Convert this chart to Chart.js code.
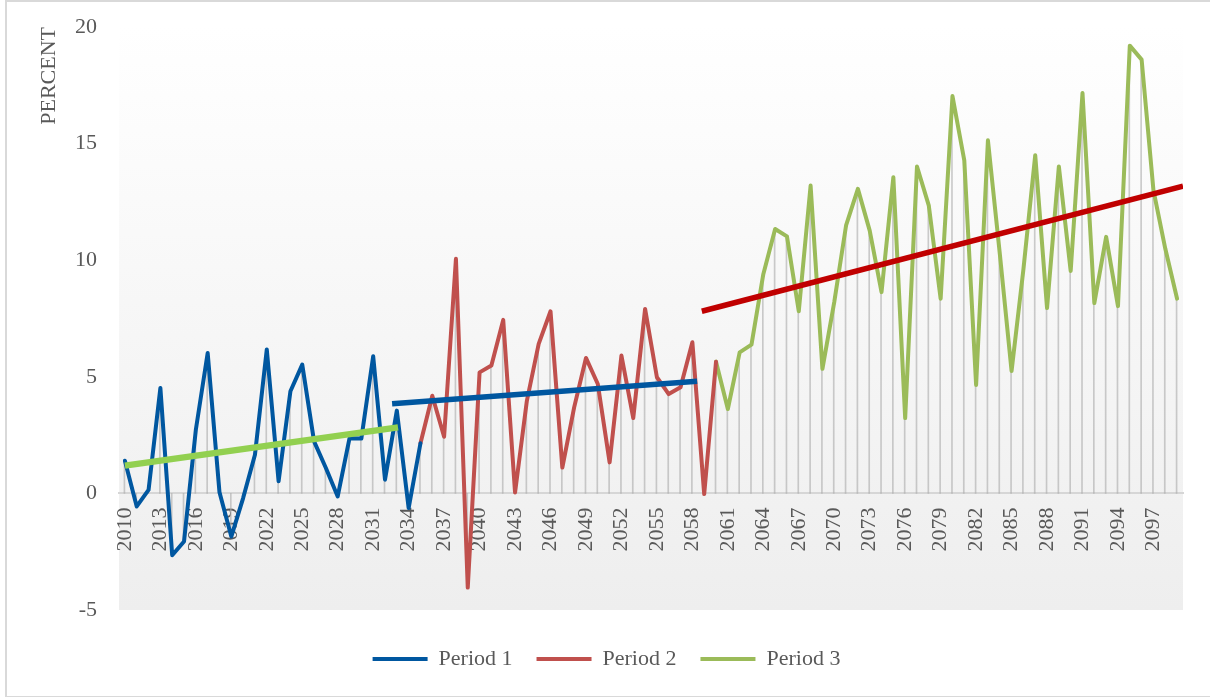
<!DOCTYPE html>
<html>
<head>
<meta charset="utf-8">
<script src="https://cdn.jsdelivr.net/npm/chart.js@4/dist/chart.umd.min.js"></script>
<style>
  body { margin: 0; background: #ffffff; }
  #wrap { position: relative; width: 1210px; height: 697px; overflow: hidden; }
  #frame { position: absolute; left: 5px; top: 0; width: 1210px; height: 694px; border: 2px solid #d9d9d9; border-right: none; }
  canvas { position: absolute; left: 0; top: 0; }
</style>
</head>
<body>
<div id="wrap">
  <div id="frame"></div>
  <canvas id="grafico" width="1210" height="697"></canvas>
</div>
<script>
// categorias: años 2010 - 2099
var primerAnio = 2010;
var ultimoAnio = 2099;
var anios = [];
for (var a = primerAnio; a <= ultimoAnio; a++) anios.push(String(a));

// Period 1: 2010 - 2035
var period1 = [1.4, -0.56, 0.15, 4.52, -2.65, -2.06, 2.73, 6.02, 0.05, -1.85,
    -0.2, 1.66, 6.17, 0.52, 4.38, 5.52, 2.23, 1.09, -0.13, 2.37,
    2.35, 5.88, 0.59, 3.55, -0.63, 2.15];
var inicioPeriod1 = 2010;

// Period 2: 2035 - 2060
var period2 = [2.15, 4.19, 2.43, 10.06, -4.04, 5.19, 5.48, 7.44, 0.04, 3.97,
    6.41, 7.81, 1.11, 3.69, 5.81, 4.69, 1.33, 5.91, 3.23, 7.91,
    4.98, 4.26, 4.55, 6.48, -0.03, 5.65];
var inicioPeriod2 = 2035;

// Period 3: 2060 - 2099
var period3 = [5.65, 3.62, 6.05, 6.38, 9.4, 11.34, 11.02, 7.81, 13.2, 5.34,
    8.2, 11.49, 13.06, 11.27, 8.63, 13.56, 3.23, 14.02, 12.34, 8.35,
    17.04, 14.28, 4.65, 15.14, 10.3, 5.25, 9.6, 14.5, 7.95, 14.02,
    9.54, 17.17, 8.16, 11.0, 8.03, 19.2, 18.6, 13.0, 10.5, 8.35];
var inicioPeriod3 = 2060;

// lineas de tendencia (inicio y fin, en años)
var tendencia1X = [2010, 2033.1];
var tendencia1Y = [1.19, 2.83];
var tendencia2X = [2032.6, 2058.4];
var tendencia2Y = [3.84, 4.81];
var tendencia3X = [2058.8, 2099.5];
var tendencia3Y = [7.81, 13.18];

// ticks del eje y
var ticksY = [-5, 0, 5, 10, 15, 20];

var fuente = "'Liberation Serif', 'DejaVu Serif', serif";
var gris = '#595959';

function colocar(valores, inicio) {
    return anios.map(function (an) {
        var i = Number(an) - inicio;
        return (i >= 0 && i < valores.length) ? valores[i] : null;
    });
}

function puntos(xs, ys) {
    return xs.map(function (x, i) { return { x: x, y: ys[i] }; });
}

var datos1 = colocar(period1, inicioPeriod1);
var datos2 = colocar(period2, inicioPeriod2);
var datos3 = colocar(period3, inicioPeriod3);
// lineas verticales hasta el eje (drop lines)
var caidas = anios.map(function (an, i) {
    if (datos1[i] !== null) return datos1[i];
    if (datos2[i] !== null) return datos2[i];
    return datos3[i];
});

// fondo degradado del area de trazado
var fondoPlugin = {
    id: 'fondo',
    beforeDraw: function (chart) {
        var area = chart.chartArea;
        var ctx = chart.ctx;
        var g = ctx.createLinearGradient(0, area.top, 0, area.bottom);
        g.addColorStop(0, '#ffffff');
        g.addColorStop(1, '#eeeeee');
        ctx.save();
        ctx.fillStyle = g;
        ctx.fillRect(area.left, area.top, area.right - area.left, area.bottom - area.top);
        ctx.restore();
    }
};

function serie(label, data, color) {
    return {
        type: 'line',
        label: label,
        data: data,
        borderColor: color,
        backgroundColor: color,
        borderWidth: 4,
        pointRadius: 0,
        pointStyle: 'line',
        borderJoinStyle: 'round',
        borderCapStyle: 'round',
        tension: 0,
        spanGaps: false,
        order: 2
    };
}

function tendencia(label, xs, ys, color, ancho) {
    return {
        type: 'line',
        label: label,
        data: puntos(xs, ys),
        xAxisID: 'xt',
        borderColor: color,
        borderWidth: ancho,
        pointRadius: 0,
        borderCapStyle: 'butt',
        tension: 0,
        order: 1
    };
}

var ctx = document.getElementById('grafico').getContext('2d');
var grafico = new Chart(ctx, {
    data: {
        labels: anios,
        datasets: [
            serie('Period 1', datos1, '#0057a0'),
            serie('Period 2', datos2, '#c0504d'),
            serie('Period 3', datos3, '#9bbb59'),
            tendencia('Tendencia 1', tendencia1X, tendencia1Y, '#92d050', 6.5),
            tendencia('Tendencia 2', tendencia2X, tendencia2Y, '#0057a0', 5.5),
            tendencia('Tendencia 3', tendencia3X, tendencia3Y, '#c00000', 5.5),
            {
                type: 'bar',
                label: 'caidas',
                data: caidas,
                backgroundColor: 'rgba(170, 170, 170, 0.6)',
                barThickness: 1,
                order: 10
            }
        ]
    },
    options: {
        responsive: false,
        animation: false,
        devicePixelRatio: 1,
        layout: {
            padding: { left: 30, right: 27, top: 27, bottom: 17 }
        },
        scales: {
            x: {
                type: 'category',
                offset: true,
                position: { y: 0 },
                grid: { display: false, drawTicks: false },
                border: { display: true, color: '#d6d6d6', width: 2 },
                ticks: {
                    autoSkip: false,
                    minRotation: 90,
                    maxRotation: 90,
                    padding: 14,
                    color: gris,
                    font: { family: fuente, size: 22 },
                    callback: function (v, i) {
                        return i % 3 === 0 ? anios[i] : '';
                    }
                },
                afterFit: function (escala) {
                    escala.paddingLeft = 0;
                    escala.paddingRight = 0;
                }
            },
            xt: {
                type: 'linear',
                position: 'bottom',
                min: primerAnio - 0.5,
                max: ultimoAnio + 0.5,
                grid: { display: false, drawTicks: false },
                border: { display: false },
                ticks: { display: false },
                afterFit: function (escala) {
                    escala.height = 14;
                    escala.paddingLeft = 0;
                    escala.paddingRight = 0;
                }
            },
            y: {
                min: -5,
                max: 20,
                grid: { display: false, drawTicks: false },
                border: { display: false },
                afterBuildTicks: function (escala) {
                    escala.ticks = ticksY.map(function (v) { return { value: v }; });
                },
                afterFit: function (escala) {
                    escala.width = 89;
                    escala.paddingTop = 0;
                    escala.paddingBottom = 0;
                },
                ticks: {
                    padding: 22,
                    color: gris,
                    font: { family: fuente, size: 22 }
                },
                title: {
                    display: true,
                    text: 'PERCENT',
                    align: 'end',
                    color: gris,
                    font: { family: fuente, size: 22, weight: 'normal' },
                    padding: { top: 6, bottom: 0 }
                }
            }
        },
        plugins: {
            legend: {
                position: 'bottom',
                labels: {
                    usePointStyle: true,
                    pointStyleWidth: 55,
                    padding: 24,
                    color: gris,
                    font: { family: fuente, size: 22 },
                    filter: function (item) {
                        return item.text.indexOf('Period') === 0;
                    },
                    sort: function (a, b) { return a.datasetIndex - b.datasetIndex; }
                }
            },
            tooltip: { enabled: false }
        }
    },
    plugins: [fondoPlugin]
});
</script>
</body>
</html>
